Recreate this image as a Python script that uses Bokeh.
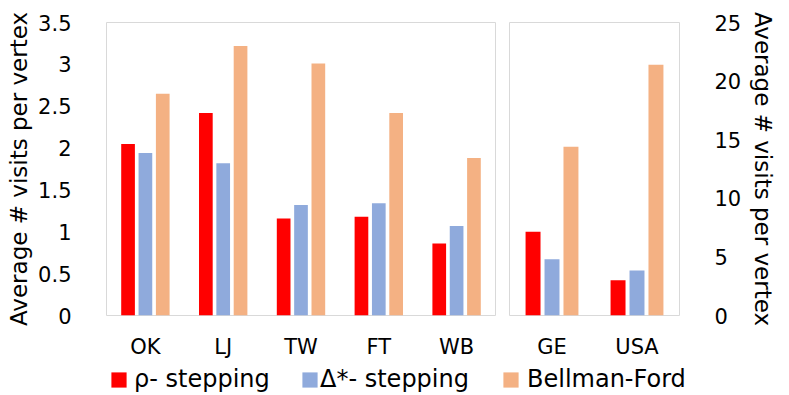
from bokeh.plotting import figure
from bokeh.layouts import column, row
from bokeh.models import (ColumnDataSource, FactorRange, Range1d, Legend, LegendItem,
                          FixedTicker, NumeralTickFormatter)
from bokeh.transform import dodge
from bokeh.embed import file_html
from bokeh.resources import INLINE

# ---- data ----
cats_left = ["OK", "LJ", "TW", "FT", "WB"]
rho_left = [2.05, 2.42, 1.16, 1.18, 0.86]
delta_left = [1.94, 1.82, 1.32, 1.34, 1.07]
bf_left = [2.65, 3.22, 3.01, 2.42, 1.88]

cats_right = ["GE", "USA"]
rho_right = [7.15, 3.0]
delta_right = [4.8, 3.85]
bf_right = [14.4, 21.4]

left_ticks = [0, 0.5, 1, 1.5, 2, 2.5, 3, 3.5]
right_ticks = [0, 5, 10, 15, 20, 25]

series_names = ["ρ- stepping", "Δ*- stepping", "Bellman-Ford"]
colors = ["#FF0000", "#8FAADC", "#F4B183"]
y_title = "Average # visits per vertex"

FONT = "DejaVu Sans"
GRAY = "#D9D9D9"
W = 0.176
OFF = 0.223


def style(p):
    p.xgrid.visible = False
    p.ygrid.visible = False
    p.outline_line_color = GRAY
    p.outline_line_width = 1
    for ax in p.axis:
        ax.axis_line_color = None
        ax.major_tick_line_color = None
        ax.minor_tick_line_color = None
        ax.major_label_text_font = FONT
        ax.major_label_text_color = "#000000"
        ax.axis_label_text_font = FONT
        ax.axis_label_text_font_style = "normal"
        ax.axis_label_text_color = "#000000"
        ax.axis_label_text_font_size = "23px"
    p.xaxis.major_label_text_font_size = "21px"
    p.xaxis.major_label_standoff = 13
    p.yaxis.major_label_text_font_size = "21px"
    p.yaxis.major_label_standoff = 29


def bars(p, cats, a, b, c):
    src = ColumnDataSource(dict(cat=cats, a=a, b=b, c=c))
    for off, key, col in zip([-OFF, 0, OFF], ["a", "b", "c"], colors):
        p.vbar(x=dodge("cat", off, range=p.x_range), top=key, width=W, source=src,
               fill_color=col, line_color=None)


p1 = figure(x_range=FactorRange(*cats_left), y_range=Range1d(0, 3.5),
            width=502, height=363, output_backend="svg", toolbar_location=None,
            min_border_left=106, min_border_right=7, min_border_top=22, min_border_bottom=48)
bars(p1, cats_left, rho_left, delta_left, bf_left)
style(p1)
p1.yaxis.ticker = FixedTicker(ticks=left_ticks)
p1.yaxis.formatter = NumeralTickFormatter(format="0.[0]")
p1.yaxis.axis_label = y_title
p1.yaxis.axis_label_standoff = 3

p2 = figure(x_range=FactorRange(*cats_right), y_range=Range1d(0, 25),
            y_axis_location="right",
            width=287, height=363, output_backend="svg", toolbar_location=None,
            min_border_left=7, min_border_right=110, min_border_top=22, min_border_bottom=48)
bars(p2, cats_right, rho_right, delta_right, bf_right)
style(p2)
p2.yaxis.ticker = FixedTicker(ticks=right_ticks)
p2.yaxis.axis_label = y_title
p2.yaxis.axis_label_standoff = 6

# ---- legend strip ----
pl = figure(width=789, height=32, output_backend="svg", toolbar_location=None,
            x_range=Range1d(0, 1), y_range=Range1d(0, 1),
            min_border=0, min_border_left=0, min_border_right=0,
            min_border_top=0, min_border_bottom=0)
pl.axis.visible = False
pl.xgrid.visible = False
pl.ygrid.visible = False
pl.outline_line_color = None
xs = [109, 300, 501]
standoffs = [6, 1, 7]
for name, col, x, so in zip(series_names, colors, xs, standoffs):
    # zero-height placeholder bar: only its legend swatch is seen
    r = pl.vbar(x=[0.5], top=[0], bottom=0, width=0.01, fill_color=col, line_color=None)
    leg = Legend(items=[LegendItem(label=name, renderers=[r])], location=(x, 2),
                 orientation="horizontal", padding=0, margin=0, spacing=0,
                 glyph_width=19, glyph_height=19, label_standoff=so,
                 label_text_font=FONT, label_text_font_size="24px",
                 label_text_color="#000000",
                 background_fill_alpha=0, border_line_color=None)
    pl.add_layout(leg, "center")

layout = column(row(p1, p2), pl)

open("out.html", "w").write(file_html(layout, INLINE))
